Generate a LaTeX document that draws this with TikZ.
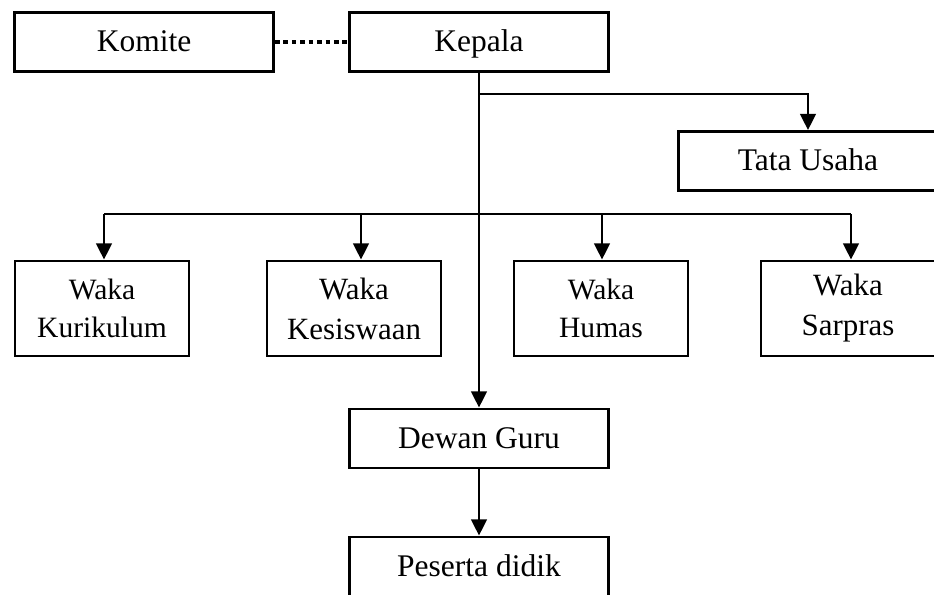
\documentclass[tikz,border=0pt]{standalone}
\usepackage{fontspec}
\setmainfont{Liberation Serif}
\usepackage{tikz}
\usetikzlibrary{arrows.meta,positioning}
\tikzset{
  box/.style={draw,line width=1.9pt,minimum width=64.8mm,minimum height=14.8mm,inner sep=0pt,font=\fontsize{22.4}{27}\selectfont,text height=14.2pt,text depth=0pt},
  wakabox/.style={draw,line width=1.9pt,minimum width=43.5mm,minimum height=23.8mm,inner sep=0pt,align=center},
  smallwaka/.style={wakabox,font=\fontsize{21}{27}\selectfont},
  largewaka/.style={wakabox,font=\fontsize{22}{28.5}\selectfont},
  arr/.style={line width=1.9pt,-{Triangle[length=11.5pt,width=11pt]}},
  dotline/.style={line width=3pt,dash pattern=on 3.3pt off 2.7pt}
}

\begin{document}
\begin{tikzpicture}[x=0.25mm,y=-0.25mm]
\useasboundingbox (0,0) rectangle (934,594);
\clip (0,0) rectangle (934,594);
\node[box] (komite) at (144,42) {Komite};
\node[box] (kepala) at (479,42) {Kepala};
\node[box] (tata) at (808,161) {Tata Usaha};
\node[smallwaka] (kurikulum) at (102,308.5) {Waka\\Kurikulum};
\node[largewaka] (kesiswaan) at (354,308.5) {Waka\\Kesiswaan};
\node[smallwaka] (humas) at (601,308.5) {Waka\\Humas};
\node[largewaka] (sarpras) at (848,308.5) {Waka\\Sarpras};
\node[box] (dewan) at (479,438.5) {Dewan Guru};
\node[box] (peserta) at (479,566.5) {Peserta didik};
\draw[dotline] (komite.east) -- (kepala.west);
\draw[arr] (kepala.south) -- (dewan.north);
\coordinate (split) at (479,94);
\draw[arr] (split) -| (tata.north);
\coordinate (w1) at (104,214);
\coordinate (w2) at (361,214);
\coordinate (w3) at (602,214);
\coordinate (w4) at (851,214);
\draw[line width=1.9pt] (w1) -- (w4);
\draw[arr] (w1) -- (w1 |- kurikulum.north);
\draw[arr] (w2) -- (w2 |- kesiswaan.north);
\draw[arr] (w3) -- (w3 |- humas.north);
\draw[arr] (w4) -- (w4 |- sarpras.north);
\draw[arr] (dewan.south) -- (peserta.north);
\end{tikzpicture}
\end{document}
